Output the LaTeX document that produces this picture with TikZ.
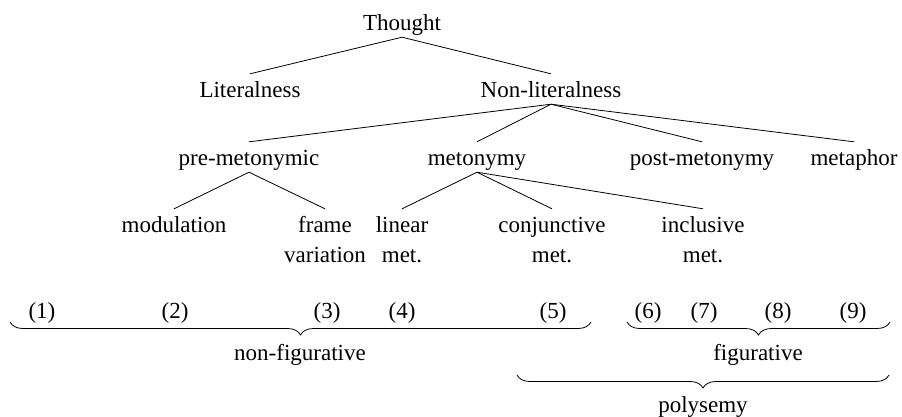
\documentclass[tikz,border=0pt]{standalone}
\usepackage{fontspec}
\setmainfont{Liberation Serif}
\usetikzlibrary{decorations.pathreplacing}
\begin{document}
\begin{tikzpicture}[x=1pt,y=-1pt,
  lab/.style={inner sep=0pt, anchor=base, text height=23pt, text depth=7pt, font=\fontsize{23}{30}\selectfont},
  num/.style={inner sep=0pt, anchor=base, font=\fontsize{23}{30}\selectfont},
  edge/.style={line width=0.8pt},
  brc/.style={line width=0.8pt, decorate, decoration={brace, mirror, amplitude=13pt}}]
\useasboundingbox (0,0) rectangle (902,416);
% tree nodes
\node[lab] (thought) at (402,30) {Thought};
\node[lab] (lit) at (250,97) {Literalness};
\node[lab] (nonlit) at (551,97) {Non-literalness};
\node[lab] (premet) at (249,165) {pre-metonymic};
\node[lab] (meton) at (477,165) {metonymy};
\node[lab] (postmet) at (702,165) {post-metonymy};
\node[lab] (metaph) at (854,165) {metaphor};
\node[lab] (modul) at (174,232) {modulation};
\node[lab] (frame) at (325,232) {\begin{tabular}[t]{@{}c@{}}frame\\variation\end{tabular}};
\node[lab] (linear) at (402,232) {\begin{tabular}[t]{@{}c@{}}linear\\met.\end{tabular}};
\node[lab] (conj) at (552,232) {\begin{tabular}[t]{@{}c@{}}conjunctive\\met.\end{tabular}};
\node[lab] (incl) at (703,232) {\begin{tabular}[t]{@{}c@{}}inclusive\\met.\end{tabular}};
% edges
\draw[edge] (thought.south) -- (lit.north);
\draw[edge] (thought.south) -- (nonlit.north);
\draw[edge] (nonlit.south) -- (premet.north);
\draw[edge] (nonlit.south) -- (meton.north);
\draw[edge] (nonlit.south) -- (postmet.north);
\draw[edge] (nonlit.south) -- (metaph.north);
\draw[edge] (premet.south) -- (modul.north);
\draw[edge] (premet.south) -- (frame.north);
\draw[edge] (meton.south) -- (linear.north);
\draw[edge] (meton.south) -- (conj.north);
\draw[edge] (meton.south) -- (incl.north);
% numbers
\node[num] (n1) at (42,318) {(1)};
\node[num] (n2) at (175,318) {(2)};
\node[num] (n3) at (327,318) {(3)};
\node[num] (n4) at (402,318) {(4)};
\node[num] (n5) at (553,318) {(5)};
\node[num] (n6) at (648,318) {(6)};
\node[num] (n7) at (704,318) {(7)};
\node[num] (n8) at (778,318) {(8)};
\node[num] (n9) at (853,318) {(9)};
% braces
\coordinate (b1l) at (10,322);
\coordinate (b1r) at (591,322);
\coordinate (b2l) at (627,322);
\coordinate (b2r) at (890,322);
\coordinate (b3l) at (517,375);
\coordinate (b3r) at (889,375);
\draw[brc] (b1l) -- (b1r);
\draw[brc] (b2l) -- (b2r);
\draw[brc] (b3l) -- (b3r);
\node[num] (nonfig) at (300,360) {non-figurative};
\node[num] (fig) at (758,360) {figurative};
\node[num] (poly) at (703,412) {polysemy};
\end{tikzpicture}
\end{document}
